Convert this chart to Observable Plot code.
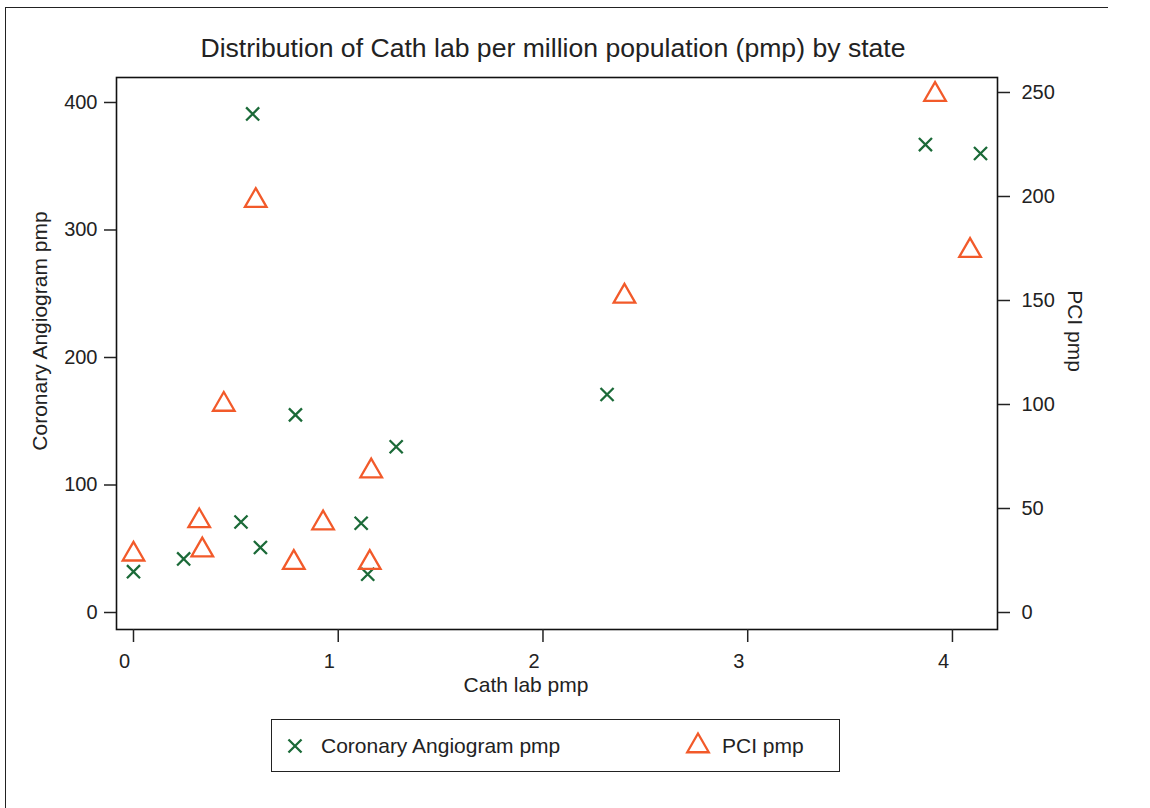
<!DOCTYPE html>
<html>
<head>
<meta charset="utf-8">
<script src="https://cdn.jsdelivr.net/npm/d3@7"></script>
<script src="https://cdn.jsdelivr.net/npm/@observablehq/plot@0.6"></script>
<style>
  body { margin: 0; background: #fff; font-family: "Liberation Sans", Arial, sans-serif; color: #222; }
  #wrap { position: relative; width: 1150px; height: 808px; overflow: hidden; background: #fff; }
  #border { position: absolute; left: 5px; top: 7px; width: 1102px; height: 900px;
            border-top: 1.5px solid #222; border-left: 1.5px solid #222; }
  #chart { position: absolute; left: 0; top: 0; }
  .txt { position: absolute; white-space: nowrap; line-height: 1; color: #222; }
  #title { font-size: 26.6px; left: 553px; top: 35px; transform: translateX(-50%); }
  #xlabel { font-size: 21px; left: 526px; top: 674px; transform: translateX(-50%); }
  #ylabel { font-size: 21px; left: 39px; top: 331px; transform: translate(-50%, -50%) rotate(-90deg); }
  #y2label { font-size: 21px; left: 1075px; top: 331px; transform: translate(-50%, -50%) rotate(90deg); }
  #legend { position: absolute; left: 271px; top: 719px; width: 567px; height: 51px;
            border: 1.4px solid #222; background: #fff; }
  .lg { position: absolute; font-size: 21px; line-height: 1; white-space: nowrap; color: #222; }
  .sym { position: absolute; overflow: visible; }
</style>
</head>
<body>
<div id="wrap">
  <div id="border"></div>
  <div id="chart"></div>
  <div id="title" class="txt">Distribution of Cath lab per million population (pmp) by state</div>
  <div id="xlabel" class="txt">Cath lab pmp</div>
  <div id="ylabel" class="txt">Coronary Angiogram pmp</div>
  <div id="y2label" class="txt">PCI pmp</div>
  <div id="legend"></div>
</div>
<script>
// ---- data ----
const seriesNames = ["Coronary Angiogram pmp", "PCI pmp"];

const cathLabCA = [0.00, 0.245, 0.525, 0.582, 0.62, 0.791, 1.112, 1.144, 1.283, 2.313, 3.868, 4.137];
const coronaryAngiogramPmp = [32, 42, 71, 391, 51, 155, 70, 30, 130, 171, 367, 360];

const cathLabPCI = [0.00, 0.321, 0.336, 0.441, 0.597, 0.783, 0.926, 1.154, 1.161, 2.398, 3.915, 4.086];
const pciPmp = [28, 44, 30, 100, 198, 24, 43, 24, 68, 152, 249, 174];

const xTicks = [0, 1, 2, 3, 4];
const leftTicks = [0, 100, 200, 300, 400];
const rightTicks = [0, 50, 100, 150, 200, 250];

// ---- build ----
const green = "#1b6a38";
const orange = "#f25a2a";
const k = 2.08 / 1.275; // right-axis unit expressed in left-axis units

const caData = cathLabCA.map((x, i) => ({x, y: coronaryAngiogramPmp[i]}));
const pciData = cathLabPCI.map((x, i) => ({x, y: pciPmp[i] * k}));

const rTimes = 6, rTri = 10.3;
const fmt = d => String(d);

const chart = Plot.plot({
  width: 1150,
  height: 700,
  marginTop: 77,
  marginLeft: 116,
  marginRight: 153,
  marginBottom: 71,
  style: {fontFamily: "Liberation Sans, Arial, sans-serif", fontSize: "20px", color: "#222", background: "transparent"},
  x: {domain: [-0.083, 4.22]},
  y: {domain: [-13.33, 419.6]},
  marks: [
    Plot.frame({stroke: "#111", strokeWidth: 1.6}),
    Plot.axisX(xTicks, {tickSize: 13, tickFormat: () => "", strokeWidth: 1.5, label: null}),
    Plot.axisX(xTicks, {tickSize: 0, tickPadding: 24, dx: -9, tickFormat: fmt, fontSize: 20, label: null, fill: "#222"}),
    Plot.axisY(leftTicks, {anchor: "left", tickSize: 12, tickPadding: 7, strokeWidth: 1.5, tickFormat: fmt,
      fontSize: 20, label: null, fill: "#222"}),
    Plot.axisY(rightTicks.map(v => v * k), {anchor: "right", tickSize: 12, tickPadding: 12, strokeWidth: 1.5,
      tickFormat: d => String(Math.round(d / k)), fontSize: 20, label: null, fill: "#222"}),
    Plot.dot(caData, {x: "x", y: "y", symbol: "times", r: rTimes, stroke: green, strokeWidth: 2.3}),
    Plot.dot(pciData, {x: "x", y: "y", symbol: "triangle2", r: rTri, stroke: orange, strokeWidth: 2.3})
  ]
});
document.getElementById("chart").appendChild(chart);

// ---- legend ----
const legend = document.getElementById("legend");
const items = [
  {name: seriesNames[0], sym: d3.symbolTimes, r: rTimes, color: green, sx: 23, tx: 49},
  {name: seriesNames[1], sym: d3.symbolTriangle2, r: rTri, color: orange, sx: 426, tx: 450}
];
items.forEach(it => {
  const svg = d3.create("svg").attr("class", "sym").attr("width", 30).attr("height", 30)
    .style("left", (it.sx - 15) + "px").style("top", (26 - 15) + "px");
  svg.append("path")
    .attr("transform", "translate(15,15)")
    .attr("d", d3.symbol(it.sym, Math.PI * it.r * it.r)())
    .attr("fill", "none").attr("stroke", it.color).attr("stroke-width", 2.3);
  legend.appendChild(svg.node());
  const t = document.createElement("div");
  t.className = "lg";
  t.textContent = it.name;
  t.style.left = it.tx + "px";
  t.style.top = "15px";
  legend.appendChild(t);
});
</script>
</body>
</html>
